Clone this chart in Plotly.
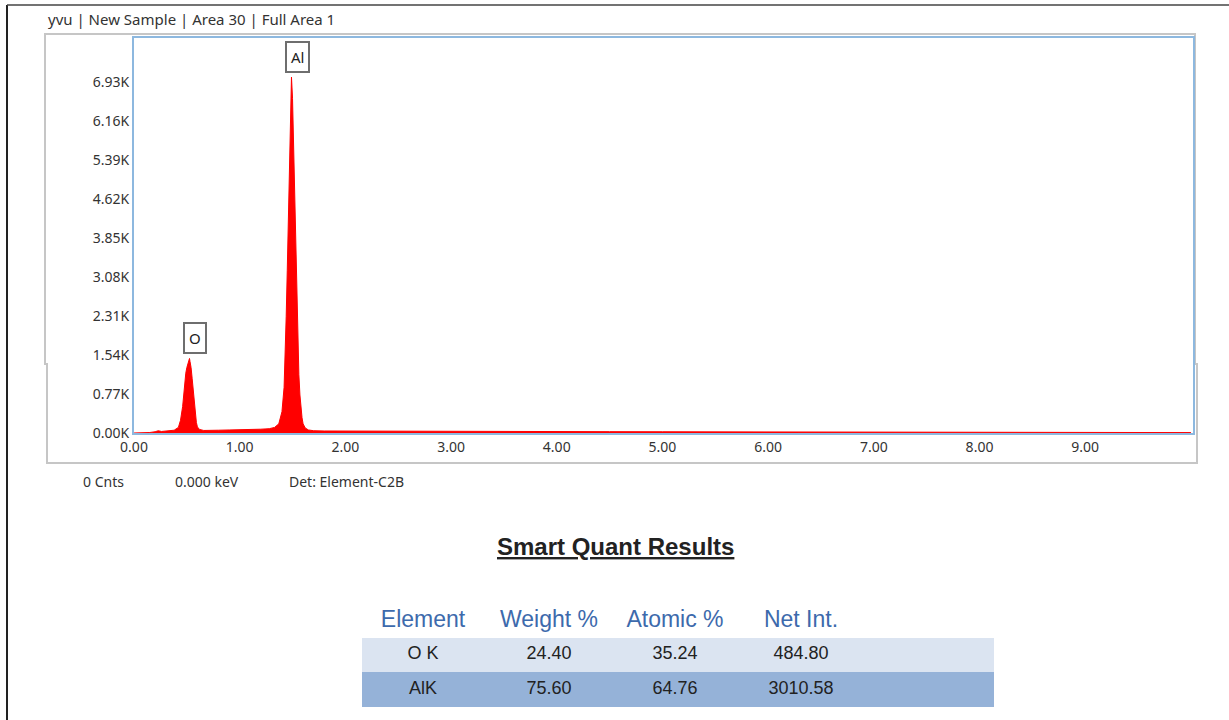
import plotly.graph_objects as go

# EDS spectrum (energy in keV, counts)
energy_kev = [
    0.00, 0.10, 0.15, 0.20, 0.23, 0.26, 0.30, 0.34, 0.38, 0.42, 0.44, 0.46,
    0.47, 0.48, 0.49, 0.50, 0.51, 0.52, 0.525, 0.53, 0.54, 0.55, 0.56, 0.57,
    0.58, 0.59, 0.60, 0.62, 0.66, 0.70, 0.80, 0.90, 1.00, 1.10, 1.20, 1.28,
    1.33, 1.37, 1.40, 1.42, 1.43, 1.44, 1.45, 1.46, 1.47, 1.48, 1.485, 1.49,
    1.50, 1.51, 1.52, 1.53, 1.54, 1.55, 1.56, 1.57, 1.58, 1.59, 1.60, 1.62,
    1.65, 1.70, 1.80, 2.00, 2.50, 3.00, 3.50, 4.00, 4.50, 5.00, 5.50, 6.00,
    6.50, 7.00, 7.50, 8.00, 8.50, 9.00, 9.50, 10.00,
]
counts = [
    0, 4, 10, 25, 45, 30, 35, 40, 55, 110, 250, 520,
    760, 980, 1180, 1290, 1360, 1440, 1470, 1410, 1290, 1080, 820, 560,
    360, 210, 120, 70, 50, 48, 55, 60, 62, 68, 75, 85,
    110, 180, 420, 900, 1500, 2300, 3200, 4300, 5500, 6500, 6950, 7020,
    6600, 5700, 4500, 3400, 2500, 1700, 1150, 750, 480, 300, 180, 100,
    60, 45, 40, 38, 35, 32, 30, 28, 26, 24, 22, 20,
    18, 16, 14, 12, 11, 10, 9, 8,
]

# Peak labels
peak_labels = ["O", "Al"]
peak_energy = [0.525, 1.49]
peak_counts = [1470, 7020]

# Axis ticks
x_ticks = [0, 1, 2, 3, 4, 5, 6, 7, 8, 9]
x_tick_text = ["0.00", "1.00", "2.00", "3.00", "4.00", "5.00", "6.00", "7.00", "8.00", "9.00"]
y_ticks = [0, 770, 1540, 2310, 3080, 3850, 4620, 5390, 6160, 6930]
y_tick_text = ["0.00K", "0.77K", "1.54K", "2.31K", "3.08K", "3.85K", "4.62K", "5.39K", "6.16K", "6.93K"]

# Quantification table
table_header = ["Element", "Weight %", "Atomic %", "Net Int.", ""]
element = ["O K", "AlK"]
weight_pct = ["24.40", "75.60"]
atomic_pct = ["35.24", "64.76"]
net_int = ["484.80", "3010.58"]

W, H = 1229, 720
ROW_FILLS = ["#dbe4f1", "#95b2d8"]


def px(x):
    return x / W


def py(y):
    return 1 - y / H


fig = go.Figure()

fig.add_trace(go.Scatter(
    x=energy_kev, y=counts, mode="lines",
    line=dict(color="#ff0000", width=1),
    fill="tozeroy", fillcolor="#ff0000",
    hoverinfo="skip", showlegend=False,
))

for lab, ex, cy in zip(peak_labels, peak_energy, peak_counts):
    fig.add_annotation(
        x=ex, y=cy, xref="x", yref="y", text=lab, showarrow=False,
        xshift=6, yshift=20, yanchor="middle",
        font=dict(family="Noto Sans", size=15, color="#222222"),
        bordercolor="#6e6e6e", borderwidth=2, borderpad=4, bgcolor="#ffffff",
    )

fig.add_trace(go.Table(
    domain=dict(x=[px(362), px(993)], y=[py(708), py(602)]),
    columnwidth=[122, 130, 122, 130, 127],
    header=dict(
        values=table_header,
        fill_color="#ffffff",
        line=dict(color="#ffffff", width=1),
        align="center", height=35,
        font=dict(family="Liberation Sans", size=23, color="#3d6aac"),
    ),
    cells=dict(
        values=[element, weight_pct, atomic_pct, net_int, ["", ""]],
        fill_color=[ROW_FILLS] * 5,
        line=dict(color=[ROW_FILLS] * 5, width=1),
        align="center", height=35,
        font=dict(family="Liberation Sans", size=18, color="#222222"),
    ),
))

# Outer grey panel around the spectrum (with the small step on both sides)
fig.add_shape(type="path", xref="paper", yref="paper", layer="below",
              path=(f"M {px(47)},{py(364)} L {px(45)},{py(364)} L {px(45)},{py(34)} "
                    f"L {px(1195)},{py(34)} L {px(1195)},{py(364)} L {px(1197)},{py(364)} "
                    f"L {px(1197)},{py(463)} L {px(47)},{py(463)} Z"),
              line=dict(color="#c6c6c6", width=2))
# Page frame lines (left and top)
fig.add_shape(type="line", xref="paper", yref="paper",
              x0=px(7), x1=px(7), y0=py(5), y1=0,
              line=dict(color="#222222", width=2))
fig.add_shape(type="line", xref="paper", yref="paper",
              x0=px(7), x1=1, y0=py(5), y1=py(5),
              line=dict(color="#444444", width=1.5))

small = dict(family="Noto Sans", size=14, color="#333333")
fig.add_annotation(x=px(46), y=py(19), xref="paper", yref="paper",
                   text="yvu | New Sample | Area 30 | Full Area 1",
                   showarrow=False, xanchor="left", yanchor="middle",
                   font=dict(family="Noto Sans", size=15, color="#333333"))
for txt, cx in [("0 Cnts", 104), ("0.000 keV", 207), ("Det: Element-C2B", 346)]:
    fig.add_annotation(x=px(cx), y=py(482), xref="paper", yref="paper",
                       text=txt, showarrow=False, xanchor="center",
                       yanchor="middle", font=small)
fig.add_annotation(x=px(615), y=py(546), xref="paper", yref="paper",
                   text="<b><u>Smart Quant Results</u></b>", showarrow=False,
                   xanchor="center", yanchor="middle",
                   font=dict(family="Liberation Sans", size=24, color="#222222"))

fig.update_layout(
    width=W, height=H,
    margin=dict(l=0, r=0, t=0, b=0, autoexpand=False),
    paper_bgcolor="#ffffff", plot_bgcolor="#ffffff",
    showlegend=False,
    xaxis=dict(
        domain=[px(134), px(1193)], range=[0, 10.02],
        tickvals=x_ticks, ticktext=x_tick_text, automargin=False,
        showgrid=False, zeroline=False,
        showline=True, mirror=True, linecolor="#8db8df", linewidth=2,
        ticks="", tickfont=small,
    ),
    yaxis=dict(
        domain=[py(433), py(38)], range=[0, 7790],
        tickvals=y_ticks, ticktext=y_tick_text, automargin=False,
        showgrid=False, zeroline=False,
        showline=True, mirror=True, linecolor="#8db8df", linewidth=2,
        ticks="", tickfont=small, ticklabelstandoff=0,
    ),
)

fig.write_html("out.html")
